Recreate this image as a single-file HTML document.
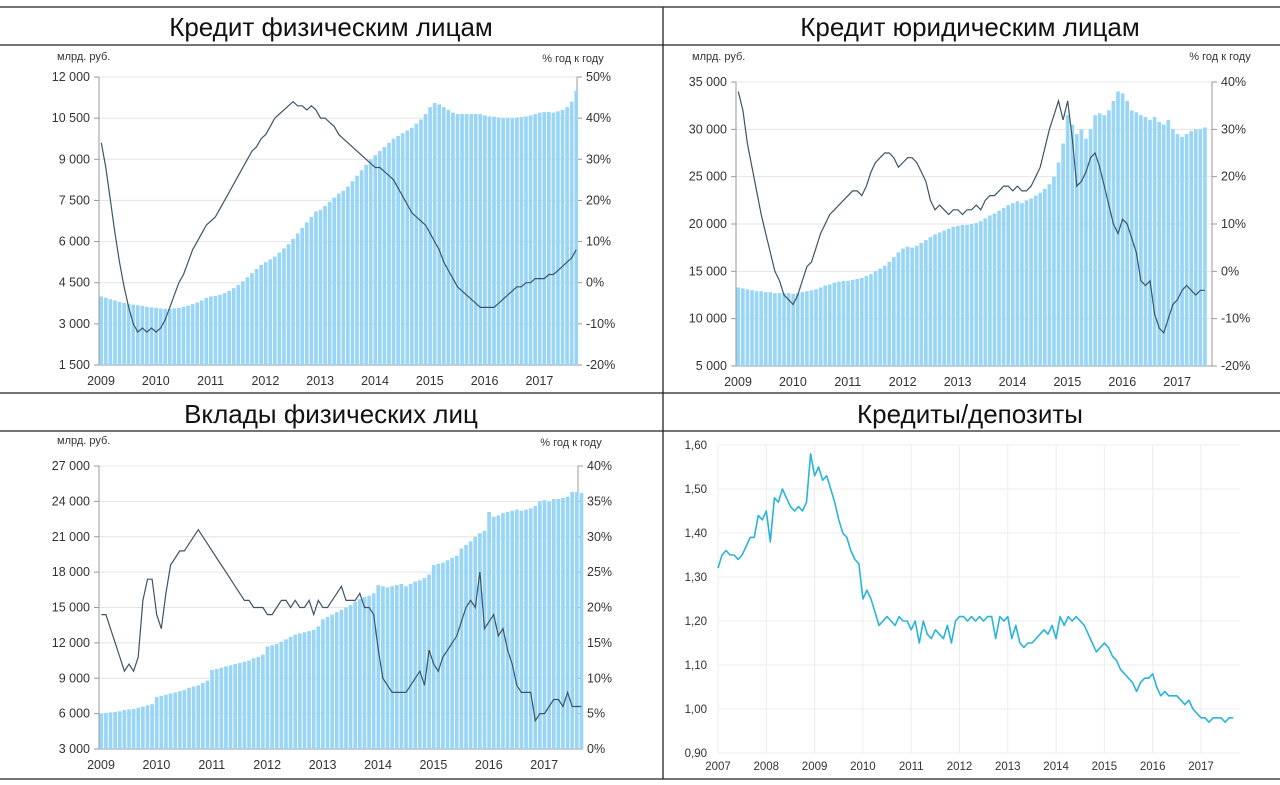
<!DOCTYPE html>
<html><head><meta charset="utf-8"><style>
body{margin:0;background:#fff;width:1280px;height:785px;overflow:hidden;font-family:"Liberation Sans",sans-serif}
svg{position:absolute;left:0;top:0}
</style></head><body>
<svg id="s" width="1280" height="785" xmlns="http://www.w3.org/2000/svg"></svg>
<script>
const years1=['2009','2010','2011','2012','2013','2014','2015','2016','2017'];
const years4=['2007','2008','2009','2010','2011','2012','2013','2014','2015','2016','2017'];
const p1Bars=[4000,3950,3900,3850,3800,3760,3720,3700,3680,3650,3620,3600,
3580,3560,3550,3550,3560,3580,3620,3660,3720,3780,3850,3950,
4000,4020,4060,4120,4200,4300,4420,4550,4700,4850,5000,5150,
5250,5350,5450,5600,5750,5900,6100,6300,6500,6700,6900,7100,
7150,7300,7450,7600,7750,7850,8000,8200,8400,8600,8800,9000,
9150,9300,9450,9600,9750,9850,9950,10050,10150,10300,10450,10650,
10900,11050,11000,10900,10800,10700,10650,10650,10650,10650,10650,10650,
10600,10560,10550,10520,10500,10500,10500,10520,10540,10560,10600,10650,
10700,10720,10730,10700,10750,10800,10900,11100,11500];
const p1Line=[34,28,20,12,5,-1,-6,-10,-12,-11,-12,-11,
-12,-11,-9,-6,-3,0,2,5,8,10,12,14,
15,16,18,20,22,24,26,28,30,32,33,35,
36,38,40,41,42,43,44,43,43,42,43,42,
40,40,39,38,36,35,34,33,32,31,30,29,
28,28,27,26,25,23,21,19,17,16,15,14,
12,10,8,5,3,1,-1,-2,-3,-4,-5,-6,
-6,-6,-6,-5,-4,-3,-2,-1,-1,0,0,1,
1,1,2,2,3,4,5,6,8];
const p2Bars=[13300,13200,13100,13000,12900,12900,12800,12800,12700,12700,12700,12700,
12600,12700,12800,12900,13000,13100,13300,13500,13600,13800,13900,14000,
14000,14100,14200,14300,14500,14700,15000,15300,15600,16000,16500,17000,
17400,17600,17500,17700,18000,18300,18600,18900,19100,19300,19500,19700,
19800,19900,19900,20000,20100,20300,20600,20900,21100,21400,21700,22000,
22200,22400,22200,22500,22700,23000,23300,23700,24200,25000,26500,28500,
31500,30500,29500,30000,29000,30000,31500,31700,31500,32000,33000,34000,
33800,33000,32000,31800,31500,31300,31000,31300,30800,30500,31000,30000,
29500,29200,29500,29800,30000,30000,30200];
const p2Line=[38,34,27,22,17,12,8,4,0,-2,-5,-6,
-7,-5,-2,1,2,5,8,10,12,13,14,15,
16,17,17,16,18,21,23,24,25,25,24,22,
23,24,24,23,21,19,15,13,14,13,12,13,
13,12,13,13,14,13,15,16,16,17,18,18,
17,18,17,17,18,20,22,26,30,33,36,32,
36,28,18,19,21,24,25,22,18,14,10,8,
11,10,7,4,-2,-3,-2,-9,-12,-13,-10,-7,
-6,-4,-3,-4,-5,-4,-4];
const p3Bars=[6000,6050,6100,6150,6200,6300,6350,6400,6500,6600,6700,6800,
7400,7500,7600,7700,7800,7900,8000,8200,8300,8400,8600,8800,
9700,9800,9900,10000,10100,10200,10300,10400,10500,10700,10800,11000,
11700,11800,11900,12100,12300,12500,12700,12800,12900,13000,13100,13400,
14000,14200,14400,14600,14800,15000,15200,15500,15700,15900,16000,16200,
16900,16800,16700,16800,16900,17000,16800,17000,17200,17300,17500,17800,
18600,18700,18800,19000,19200,19400,20000,20300,20600,21000,21300,21500,
23100,22700,22800,23000,23100,23200,23300,23200,23300,23400,23600,24000,
24100,24000,24200,24200,24300,24400,24800,24800,24700];
const p3Line=[19,19,17,15,13,11,12,11,13,21,24,24,
19,17,22,26,27,28,28,29,30,31,30,29,
28,27,26,25,24,23,22,21,21,20,20,20,
19,19,20,21,21,20,21,20,20,21,19,21,
20,20,21,22,23,21,21,21,22,20,20,19,
14,10,9,8,8,8,8,9,10,11,9,14,
12,11,13,14,15,16,18,20,21,20,25,17,
18,19,16,17,14,12,9,8,8,8,4,5,
5,6,7,7,6,8,6,6,6];
const p4Line=[1.32,1.35,1.36,1.35,1.35,1.34,1.35,1.37,1.39,1.39,1.44,1.43,
1.45,1.38,1.48,1.47,1.50,1.48,1.46,1.45,1.46,1.45,1.47,1.58,
1.53,1.55,1.52,1.53,1.50,1.47,1.43,1.40,1.39,1.36,1.34,1.33,
1.25,1.27,1.25,1.22,1.19,1.20,1.21,1.20,1.19,1.21,1.20,1.20,
1.18,1.20,1.15,1.20,1.17,1.16,1.18,1.17,1.16,1.19,1.15,1.20,
1.21,1.21,1.20,1.21,1.20,1.21,1.20,1.21,1.21,1.16,1.21,1.20,
1.21,1.16,1.19,1.15,1.14,1.15,1.15,1.16,1.17,1.18,1.17,1.19,
1.16,1.21,1.19,1.21,1.20,1.21,1.20,1.19,1.17,1.15,1.13,1.14,
1.15,1.14,1.12,1.11,1.09,1.08,1.07,1.06,1.04,1.06,1.07,1.07,
1.08,1.05,1.03,1.04,1.03,1.03,1.03,1.02,1.01,1.02,1.00,0.99,
0.98,0.98,0.97,0.98,0.98,0.98,0.97,0.98,0.98];
const p4Ticks=[0.9,1.0,1.1,1.2,1.3,1.4,1.5,1.6];

const s=document.getElementById('s');
const NS='http://www.w3.org/2000/svg';
function el(tag,attrs,parent){const e=document.createElementNS(NS,tag);for(const k in attrs)e.setAttribute(k,attrs[k]);(parent||s).appendChild(e);return e;}
function txt(x,y,t,anchor,size,parent){const e=el('text',{x:x,y:y,'text-anchor':anchor||'start','font-size':size||12,fill:'#333','font-family':'"Liberation Sans",sans-serif'},parent);e.textContent=t;return e;}
function fmt(v){return String(v).replace(/\B(?=(\d{3})+(?!\d))/g,' ');}

[[0,7,1280,7],[0,45,1280,45],[0,393,1280,393],[0,431,1280,431],[0,779,1280,779],[663,7,663,779]].forEach(l=>{
 const e=el('line',{x1:l[0],y1:l[1],x2:l[2],y2:l[3],stroke:'#222','stroke-width':1.3});
 
 
});
const titles=[[331,36,'Кредит физическим лицам'],[970,36,'Кредит юридическим лицам'],[331,423,'Вклады физических лиц'],[970,423,'Кредиты/депозиты']];
titles.forEach(t=>{const e=txt(t[0],t[1],t[2],'middle',26);e.setAttribute('fill','#111');
 
 });

function panel(name,cfg,bars,line){
 const g=el('g',{});
 
 
 const {x0,x1,yTop,yBot,lMin,lMax,lStep,rMin,rMax,rStep,yStart,yearW}=cfg;
 const yL=v=>yBot-(v-lMin)/(lMax-lMin)*(yBot-yTop);
 const yR=v=>yBot-(v-rMin)/(rMax-rMin)*(yBot-yTop);
 const mW=yearW/12;
 const xM=i=>yStart+(i+0.5)*mW;
 for(let v=lMin;v<=lMax;v+=lStep){
  const y=yL(v);
  const gl=el('line',{x1:x0,x2:x1,y1:y,y2:y,stroke:'#e4e4e4','stroke-width':1},g);
  
  
  el('line',{x1:x0-5,x2:x0,y1:y,y2:y,stroke:'#999'},g);
  const t=txt(x0-9,y+4,fmt(v),'end',12.5,g);
  
  
 }
 for(let v=rMin;v<=rMax;v+=rStep){
  const y=yR(v);
  el('line',{x1:x1,x2:x1+5,y1:y,y2:y,stroke:'#999'},g);
  const t=txt(x1+9,y+4,v+'%','start',12.5,g);
  
  
 }
 el('line',{x1:x0,x2:x0,y1:yTop,y2:yBot,stroke:'#999'},g);
 el('line',{x1:x1,x2:x1,y1:yTop,y2:yBot,stroke:'#999'},g);
 el('line',{x1:x0,x2:x1,y1:yBot,y2:yBot,stroke:'#999'},g);
 bars.forEach((v,i)=>{
  const y=yL(v);
  const b=el('rect',{x:xM(i)-mW*0.4,y:y,width:mW*0.8,height:yBot-y,fill:'#99d5f6'},g);
  
  
 });
 const pts=line.map((v,i)=>xM(i).toFixed(1)+','+yR(v).toFixed(1)).join(' ');
 const pl=el('polyline',{points:pts,fill:'none',stroke:'#3c5566','stroke-width':1.2},g);
 
 
 years1.forEach((yr,i)=>{
  const t=txt(yStart+i*yearW+2,yBot+20,yr,'middle',12.5,g);
  
  
 });
 const u1=txt(cfg.u1[0],cfg.u1[1],'млрд. руб.','start',11,g);
 
 
 const u2=txt(cfg.u2[0],cfg.u2[1],'% год к году','middle',11,g);
 
 
}
panel('chart-household-loans',{x0:99,x1:577,yTop:77,yBot:365,lMin:1500,lMax:12000,lStep:1500,rMin:-20,rMax:50,rStep:10,yStart:99,yearW:54.8,u1:[57,60],u2:[573,62]},p1Bars,p1Line);
panel('chart-corporate-loans',{x0:736,x1:1212,yTop:82,yBot:366,lMin:5000,lMax:35000,lStep:5000,rMin:-20,rMax:40,rStep:10,yStart:736,yearW:54.9,u1:[692,60],u2:[1220,60]},p2Bars,p2Line);
panel('chart-household-deposits',{x0:99,x1:578,yTop:466,yBot:749,lMin:3000,lMax:27000,lStep:3000,rMin:0,rMax:40,rStep:5,yStart:99,yearW:55.4,u1:[57,444],u2:[571,446]},p3Bars,p3Line);

(function(){
 const g=el('g',{});
 
 
 const x0=718,x1=1240,yTop=445,yBot=753,vMin=0.9,vMax=1.6,yearW=48.3;
 const y=v=>yBot-(v-vMin)/(vMax-vMin)*(yBot-yTop);
 const xM=i=>x0+i*yearW/12;
 p4Ticks.forEach(v=>{
  const yy=y(v);
  const gl=el('line',{x1:x0,x2:x1,y1:yy,y2:yy,stroke:'#ececec'},g);
  
  
  const t=txt(x0-11,yy+4,v.toFixed(2).replace('.',','),'end',11.5,g);
  
  
 });
 years4.forEach((yr,i)=>{
  const xx=x0+i*yearW;
  el('line',{x1:xx,x2:xx,y1:yTop,y2:yBot,stroke:'#ececec'},g);
  const t=txt(xx,yBot+17,yr,'middle',11.5,g);
  
  
 });
 const pts=p4Line.map((v,i)=>xM(i).toFixed(1)+','+y(v).toFixed(1)).join(' ');
 const pl=el('polyline',{points:pts,fill:'none',stroke:'#2bb4d9','stroke-width':1.6,'stroke-linejoin':'round'},g);
 
 
})();
</script>
</body></html>
